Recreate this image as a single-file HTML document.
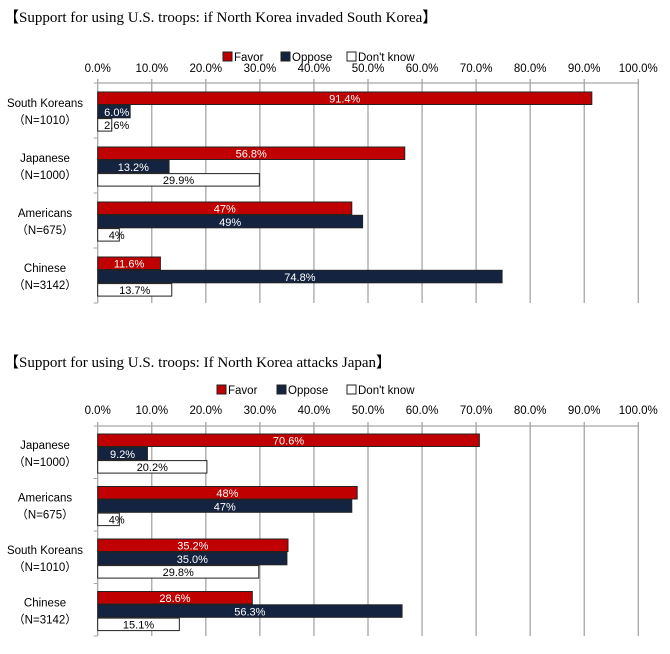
<!DOCTYPE html>
<html><head><meta charset="utf-8"><style>
body{margin:0;background:#fff;width:670px;height:654px;overflow:hidden}
svg{display:block}
text{font-family:"Liberation Sans",sans-serif}
</style></head><body>
<svg id="c" width="670" height="654" xmlns="http://www.w3.org/2000/svg"></svg>
<script>
const seriesNames = ["Favor","Oppose","Don't know"];
const ticks = ["0.0%","10.0%","20.0%","30.0%","40.0%","50.0%","60.0%","70.0%","80.0%","90.0%","100.0%"];
const tickValues = [0,10,20,30,40,50,60,70,80,90,100];
const cats1 = ["South Koreans","Japanese","Americans","Chinese"];
const ns1 = ["（N=1010）","（N=1000）","（N=675）","（N=3142）"];
const favor1 = [91.4,56.8,47,11.6];
const oppose1 = [6.0,13.2,49,74.8];
const dk1 = [2.6,29.9,4,13.7];
const lbl1 = [["91.4%","6.0%","2.6%"],["56.8%","13.2%","29.9%"],["47%","49%","4%"],["11.6%","74.8%","13.7%"]];
const cats2 = ["Japanese","Americans","South Koreans","Chinese"];
const ns2 = ["（N=1000）","（N=675）","（N=1010）","（N=3142）"];
const favor2 = [70.6,48,35.2,28.6];
const oppose2 = [9.2,47,35.0,56.3];
const dk2 = [20.2,4,29.8,15.1];
const lbl2 = [["70.6%","9.2%","20.2%"],["48%","47%","4%"],["35.2%","35.0%","29.8%"],["28.6%","56.3%","15.1%"]];

const svg=document.getElementById('c');
const NS="http://www.w3.org/2000/svg";
const fills=["#c00000","#14233f","#ffffff"];
const tcol=["#ffffff","#ffffff","#000000"];
const X0=97.7, SC=5.406;
const xs=v=>X0+v*SC;
function mk(tag,attrs,txt){const e=document.createElementNS(NS,tag);for(const k in attrs)e.setAttribute(k,attrs[k]);if(txt!==undefined)e.textContent=txt;svg.appendChild(e);return e;}

function chart(cfg){
  const t=mk('text',{x:4,y:cfg.titleY,'font-size':15,style:'font-family:"Liberation Serif",serif'},cfg.title);
  
  
  // legend
  cfg.legX.forEach((lx,i)=>{
    const r=mk('rect',{x:lx,y:cfg.legY-5,width:9,height:9,fill:fills[i],stroke:'#222','stroke-width':1});
    
    
    const lt=mk('text',{x:lx+11,y:cfg.legY+4,'font-size':11.5},seriesNames[i]);
    
    
  });
  const bottom=cfg.axisY+cfg.pitch*cfg.cats.length;
  // gridlines + tick labels
  tickValues.forEach((v,i)=>{
    const g=mk('line',{x1:xs(v),x2:xs(v),y1:cfg.axisY-4,y2:bottom,stroke:'#a6a6a6','stroke-width':1.3});
    
    
    const tl=mk('text',{x:xs(v),y:cfg.tickY+4,'font-size':11.5,'text-anchor':'middle'},ticks[i]);
    
    
  });
  const ax=mk('line',{x1:X0,x2:xs(100),y1:cfg.axisY,y2:cfg.axisY,stroke:'#a6a6a6','stroke-width':1.3});
  
  
  for(let i=0;i<=cfg.cats.length;i++){
    const tk=mk('line',{x1:X0-4,x2:X0,y1:cfg.axisY+i*cfg.pitch,y2:cfg.axisY+i*cfg.pitch,stroke:'#a6a6a6'});
    
    
  }
  cfg.cats.forEach((c,ci)=>{
    const gy=cfg.axisY+ci*cfg.pitch+cfg.off;
    const cl=mk('text',{x:45,y:gy+15,'font-size':11.5,'text-anchor':'middle'},c);
    
    
    const nl=mk('text',{x:45,y:gy+32,'font-size':11.5,'text-anchor':'middle',style:'font-family:"Liberation Sans","Noto Sans CJK JP",sans-serif'},cfg.ns[ci]);
    
    
    cfg.series.forEach((arr,si)=>{
      const y=gy+si*13.3;
      const w=xs(arr[ci])-X0;
      const b=mk('rect',{x:X0,y:y,width:w,height:12.5,fill:fills[si],stroke:'#222','stroke-width':1});
      
      
      const cx=Math.max(X0+w/2,X0+19);
      const vl=mk('text',{x:cx,y:y+10.5,'font-size':11,'text-anchor':'middle',fill:tcol[si]},cfg.labels[ci][si]);
      
      
    });
  });
}
chart({title:"【Support for using U.S. troops: if North Korea invaded South Korea】",titleY:22,legY:57,legX:[223,281,347],tickY:68,axisY:83,pitch:55,off:9,cats:cats1,ns:ns1,series:[favor1,oppose1,dk1],labels:lbl1});
chart({title:"【Support for using U.S. troops: If North Korea attacks Japan】",titleY:367,legY:390,legX:[217,277,347],tickY:410,axisY:426,pitch:52.5,off:8,cats:cats2,ns:ns2,series:[favor2,oppose2,dk2],labels:lbl2});
</script>
</body></html>
